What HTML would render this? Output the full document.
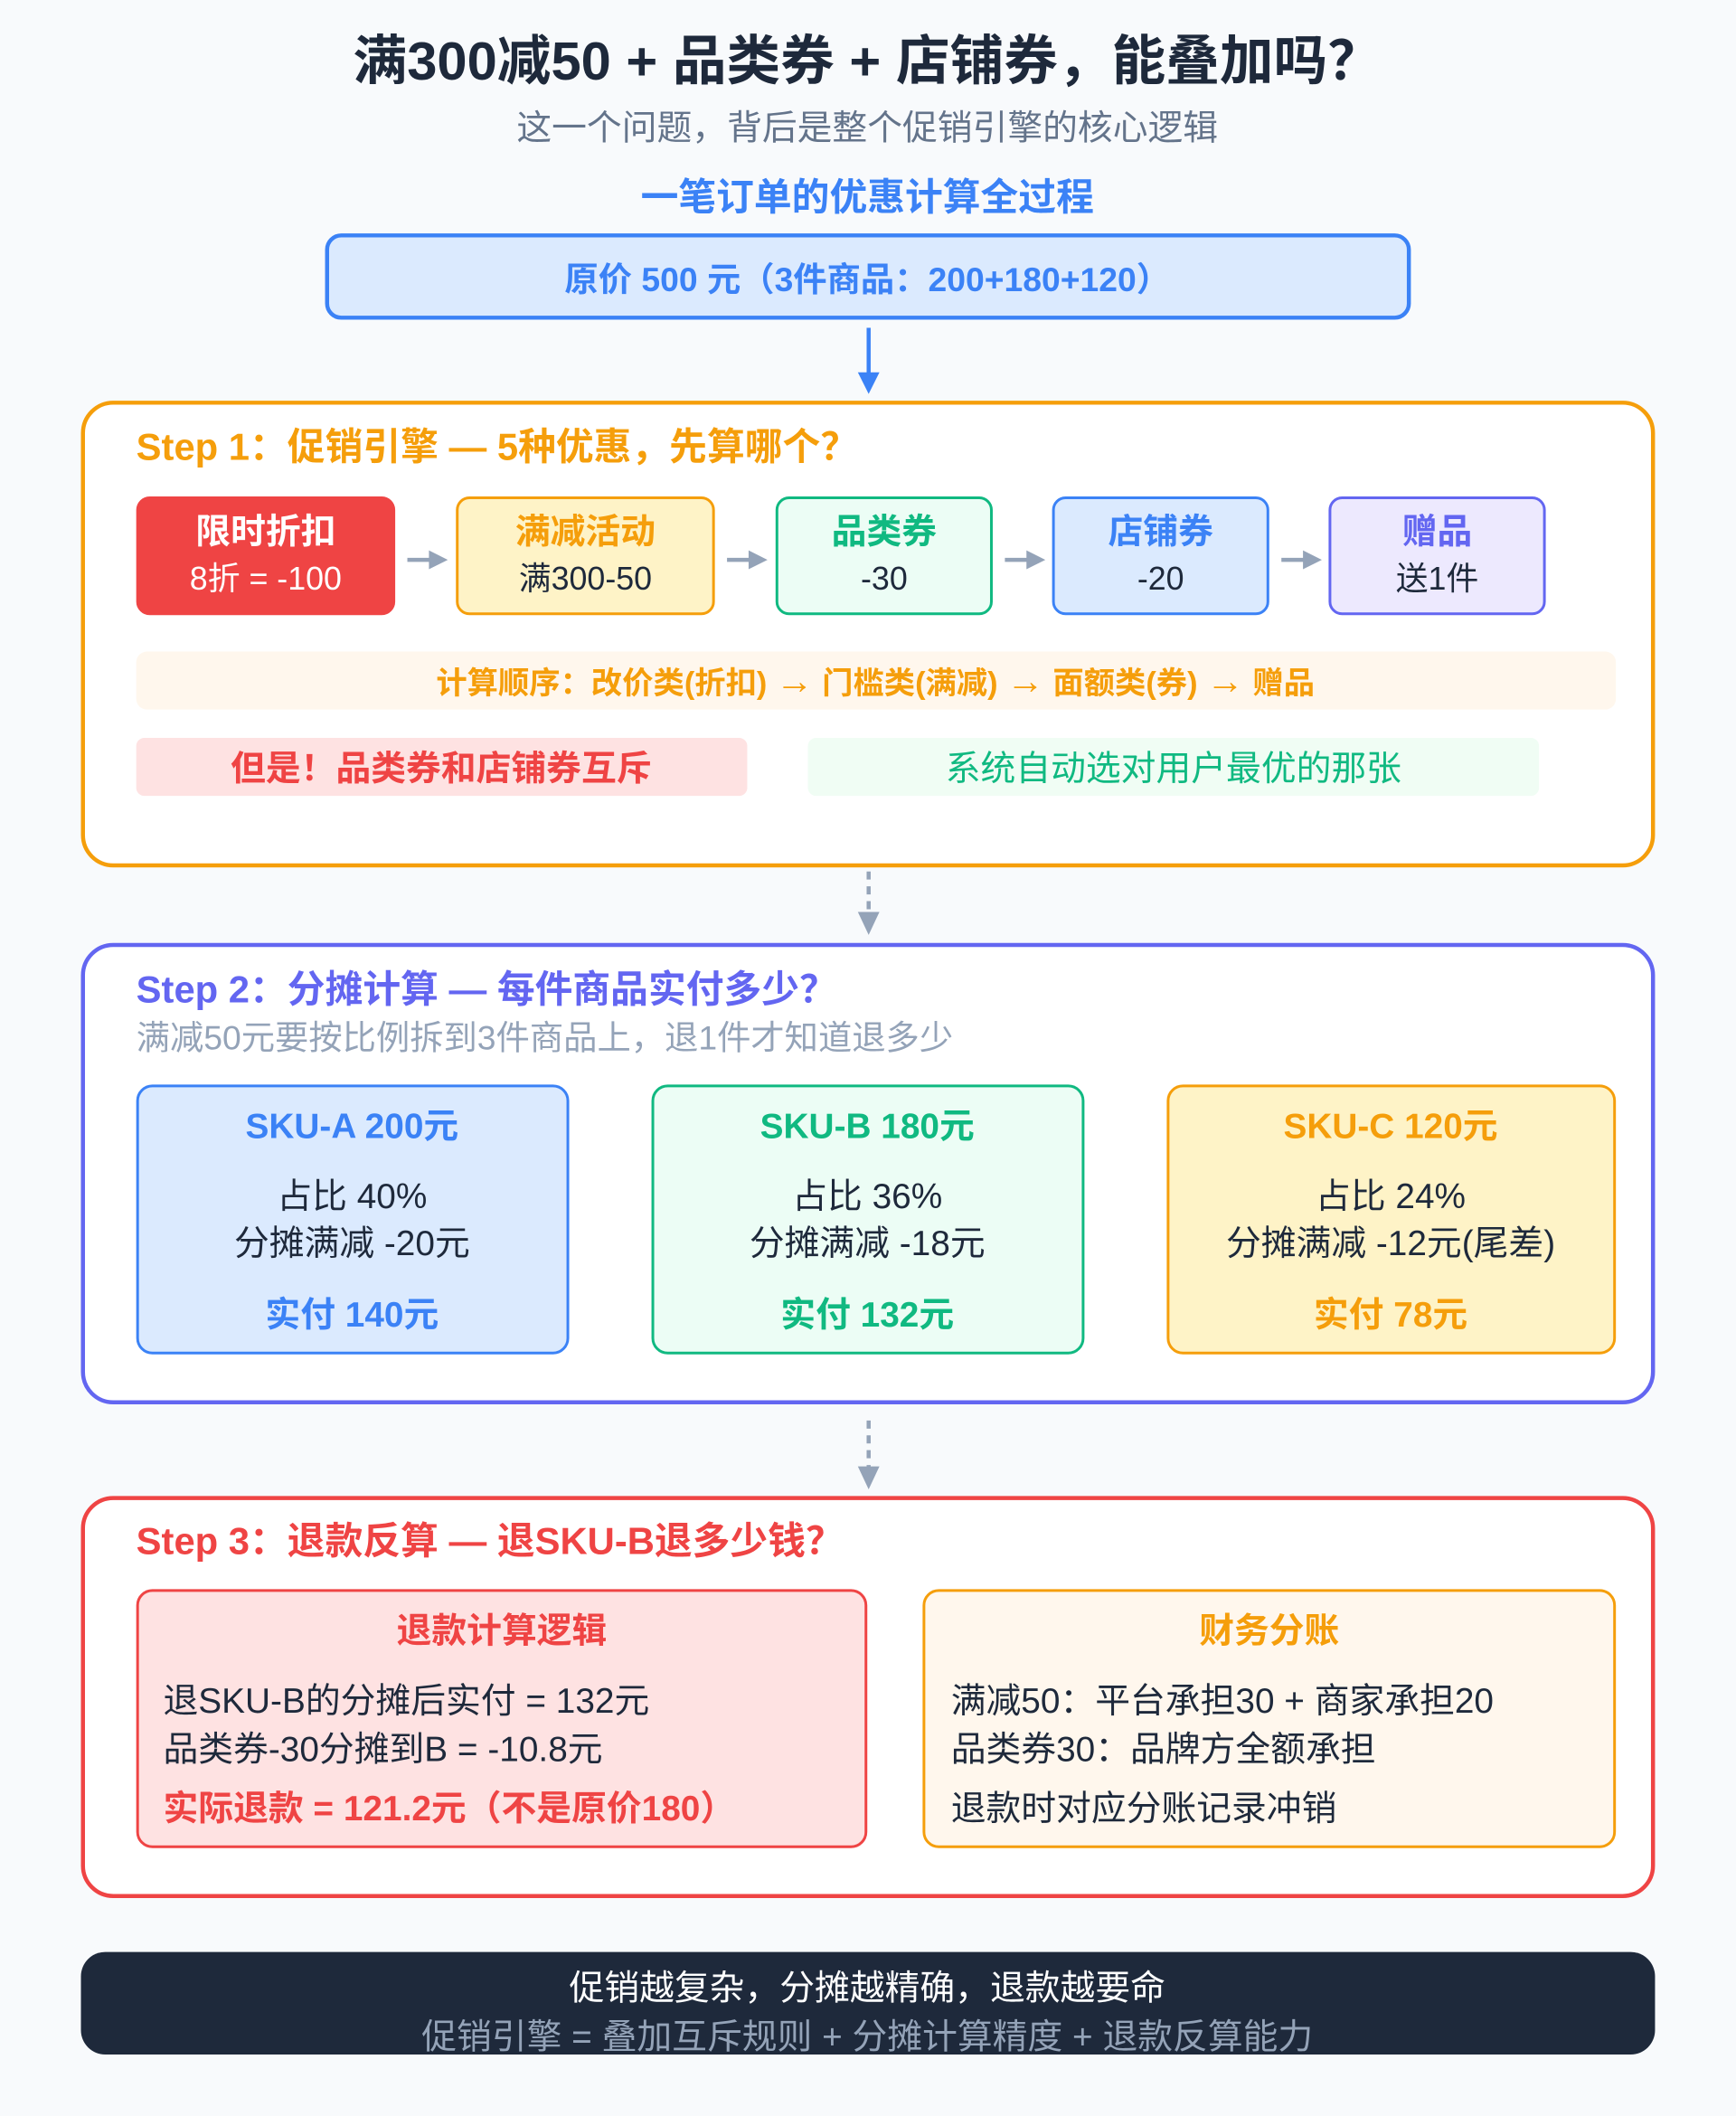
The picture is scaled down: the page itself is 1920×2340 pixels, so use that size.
<!DOCTYPE html>
<html><head><meta charset="utf-8"><style>
html,body{margin:0;padding:0;background:#f8fafc;}
body{width:1920px;height:2340px;overflow:hidden;}
#c{position:absolute;left:0;top:0;width:1287px;height:1568px;transform:scale(1.4918);transform-origin:0 0;font-family:"Liberation Sans","Noto Sans CJK SC",sans-serif;color:#1e293b;}
.a{position:absolute;box-sizing:border-box;}
.t{position:absolute;white-space:nowrap;transform:translate(-50%,-50%);}
.l{position:absolute;white-space:nowrap;transform:translateY(-50%);}
.b{font-weight:bold;}
.sb{display:flex;flex-direction:column;align-items:center;justify-content:center;border-radius:10px;border:2px solid;font-size:24px;line-height:36px;}
</style></head><body><div id="c">
<div class="t b" style="left:643px;top:42px;font-size:40px;">满300减50 + 品类券 + 店铺券，能叠加吗？</div>
<div class="t" style="left:643px;top:93px;font-size:26px;color:#64748b;">这一个问题，背后是整个促销引擎的核心逻辑</div>
<div class="t b" style="left:643px;top:145px;font-size:28px;color:#3b82f6;">一笔订单的优惠计算全过程</div>
<div class="a" style="left:241px;top:173px;width:805px;height:64px;background:#dbeafe;border:3px solid #3b82f6;border-radius:12px;"></div>
<div class="t b" style="left:643px;top:206px;font-size:25px;color:#3b82f6;">原价 500 元（3件商品：200+180+120）</div>

<svg class="a" style="left:0;top:0" width="1287" height="1568">
<line x1="644" y1="243" x2="644" y2="278" stroke="#3b82f6" stroke-width="3"/>
<polygon points="636,276 652,276 644,292" fill="#3b82f6"/>
<line x1="644" y1="646" x2="644" y2="678" stroke="#94a3b8" stroke-width="3" stroke-dasharray="6,5"/>
<polygon points="636,676 652,676 644,693" fill="#94a3b8"/>
<line x1="644" y1="1053" x2="644" y2="1088" stroke="#94a3b8" stroke-width="3" stroke-dasharray="6,5"/>
<polygon points="636,1087 652,1087 644,1104" fill="#94a3b8"/>
</svg>

<div class="a" style="left:60px;top:297px;width:1167px;height:346px;border:3px solid #f59e0b;border-radius:24px;background:#fff;"></div>
<div class="l b" style="left:101px;top:330px;font-size:28px;color:#f59e0b;">Step 1：促销引擎 — 5种优惠，先算哪个？</div>
<div class="a sb" style="left:101px;top:368px;width:192px;height:88px;background:#ef4444;border-color:#ef4444;color:#fff;"><b style="font-size:26px">限时折扣</b><span>8折 = -100</span></div>
<div class="a sb" style="left:338px;top:368px;width:192px;height:88px;background:#fef3c7;border-color:#f59e0b;"><b style="font-size:26px;color:#f59e0b">满减活动</b><span>满300-50</span></div>
<div class="a sb" style="left:575px;top:368px;width:161px;height:88px;background:#ecfdf5;border-color:#10b981;"><b style="font-size:26px;color:#10b981">品类券</b><span>-30</span></div>
<div class="a sb" style="left:780px;top:368px;width:161px;height:88px;background:#dbeafe;border-color:#3b82f6;"><b style="font-size:26px;color:#3b82f6">店铺券</b><span>-20</span></div>
<div class="a sb" style="left:985px;top:368px;width:161px;height:88px;background:#ede9fe;border-color:#6366f1;"><b style="font-size:26px;color:#6366f1">赠品</b><span>送1件</span></div>
<svg class="a" style="left:0;top:0" width="1287" height="1568">
<g stroke="#94a3b8" stroke-width="3" fill="#94a3b8">
<line x1="302" y1="415" x2="320" y2="415"/><polygon points="318,408 332,415 318,422" stroke="none"/>
<line x1="539" y1="415" x2="557" y2="415"/><polygon points="555,408 569,415 555,422" stroke="none"/>
<line x1="745" y1="415" x2="763" y2="415"/><polygon points="761,408 775,415 761,422" stroke="none"/>
<line x1="950" y1="415" x2="968" y2="415"/><polygon points="966,408 980,415 966,422" stroke="none"/>
</g></svg>
<div class="a" style="left:101px;top:483px;width:1097px;height:43px;background:#fff7ed;border-radius:8px;"></div>
<div class="t b" style="left:649px;top:504px;font-size:23px;color:#f59e0b;">计算顺序：改价类(折扣) <span style="font-size:28px">→</span> 门槛类(满减) <span style="font-size:28px">→</span> 面额类(券) <span style="font-size:28px">→</span> 赠品</div>
<div class="a" style="left:101px;top:547px;width:453px;height:43px;background:#fee2e2;border-radius:6px;"></div>
<div class="t b" style="left:327px;top:568px;font-size:26px;color:#ef4444;">但是！品类券和店铺券互斥</div>
<div class="a" style="left:599px;top:547px;width:542px;height:43px;background:#f0fdf4;border-radius:6px;"></div>
<div class="t" style="left:870px;top:568px;font-size:26px;color:#10b981;">系统自动选对用户最优的那张</div>

<div class="a" style="left:60px;top:699px;width:1167px;height:342px;border:3px solid #6366f1;border-radius:24px;background:#fff;"></div>
<div class="l b" style="left:101px;top:732px;font-size:28px;color:#6366f1;">Step 2：分摊计算 — 每件商品实付多少？</div>
<div class="l" style="left:101px;top:768px;font-size:25px;color:#94a3b8;">满减50元要按比例拆到3件商品上，退1件才知道退多少</div>
<div class="a" style="left:101px;top:804px;width:321px;height:200px;background:#dbeafe;border:2px solid #3b82f6;border-radius:12px;"></div>
<div class="t b" style="left:261px;top:833px;font-size:26px;color:#3b82f6;">SKU-A 200元</div>
<div class="t" style="left:261px;top:885px;font-size:26px;">占比 40%</div>
<div class="t" style="left:261px;top:920px;font-size:26px;">分摊满减 -20元</div>
<div class="t b" style="left:261px;top:973px;font-size:26px;color:#3b82f6;">实付 140元</div>
<div class="a" style="left:483px;top:804px;width:321px;height:200px;background:#ecfdf5;border:2px solid #10b981;border-radius:12px;"></div>
<div class="t b" style="left:643px;top:833px;font-size:26px;color:#10b981;">SKU-B 180元</div>
<div class="t" style="left:643px;top:885px;font-size:26px;">占比 36%</div>
<div class="t" style="left:643px;top:920px;font-size:26px;">分摊满减 -18元</div>
<div class="t b" style="left:643px;top:973px;font-size:26px;color:#10b981;">实付 132元</div>
<div class="a" style="left:865px;top:804px;width:333px;height:200px;background:#fef3c7;border:2px solid #f59e0b;border-radius:12px;"></div>
<div class="t b" style="left:1031px;top:833px;font-size:26px;color:#f59e0b;">SKU-C 120元</div>
<div class="t" style="left:1031px;top:885px;font-size:26px;">占比 24%</div>
<div class="t" style="left:1031px;top:920px;font-size:26px;">分摊满减 -12元(尾差)</div>
<div class="t b" style="left:1031px;top:973px;font-size:26px;color:#f59e0b;">实付 78元</div>

<div class="a" style="left:60px;top:1109px;width:1167px;height:298px;border:3px solid #ef4444;border-radius:24px;background:#fff;"></div>
<div class="l b" style="left:101px;top:1141px;font-size:28px;color:#ef4444;">Step 3：退款反算 — 退SKU-B退多少钱？</div>
<div class="a" style="left:101px;top:1178px;width:542px;height:192px;background:#fee2e2;border:2px solid #ef4444;border-radius:12px;"></div>
<div class="t b" style="left:372px;top:1207px;font-size:26px;color:#ef4444;">退款计算逻辑</div>
<div class="l" style="left:121px;top:1259px;font-size:26px;">退SKU-B的分摊后实付 = 132元</div>
<div class="l" style="left:121px;top:1295px;font-size:26px;">品类券-30分摊到B = -10.8元</div>
<div class="l b" style="left:121px;top:1339px;font-size:26px;color:#ef4444;">实际退款 = 121.2元（不是原价180）</div>
<div class="a" style="left:684px;top:1178px;width:514px;height:192px;background:#fff7ed;border:2px solid #f59e0b;border-radius:12px;"></div>
<div class="t b" style="left:941px;top:1207px;font-size:26px;color:#f59e0b;">财务分账</div>
<div class="l" style="left:705px;top:1259px;font-size:26px;">满减50：平台承担30 + 商家承担20</div>
<div class="l" style="left:705px;top:1295px;font-size:26px;">品类券30：品牌方全额承担</div>
<div class="l" style="left:705px;top:1339px;font-size:26px;">退款时对应分账记录冲销</div>

<div class="a" style="left:60px;top:1447px;width:1167px;height:76px;background:#1e293b;border-radius:18px;"></div>
<div class="t" style="left:643px;top:1472px;font-size:26px;color:#fff;">促销越复杂，分摊越精确，退款越要命</div>
<div class="t" style="left:643px;top:1508px;font-size:26px;color:#94a3b8;">促销引擎 = 叠加互斥规则 + 分摊计算精度 + 退款反算能力</div>
</div></body></html>
